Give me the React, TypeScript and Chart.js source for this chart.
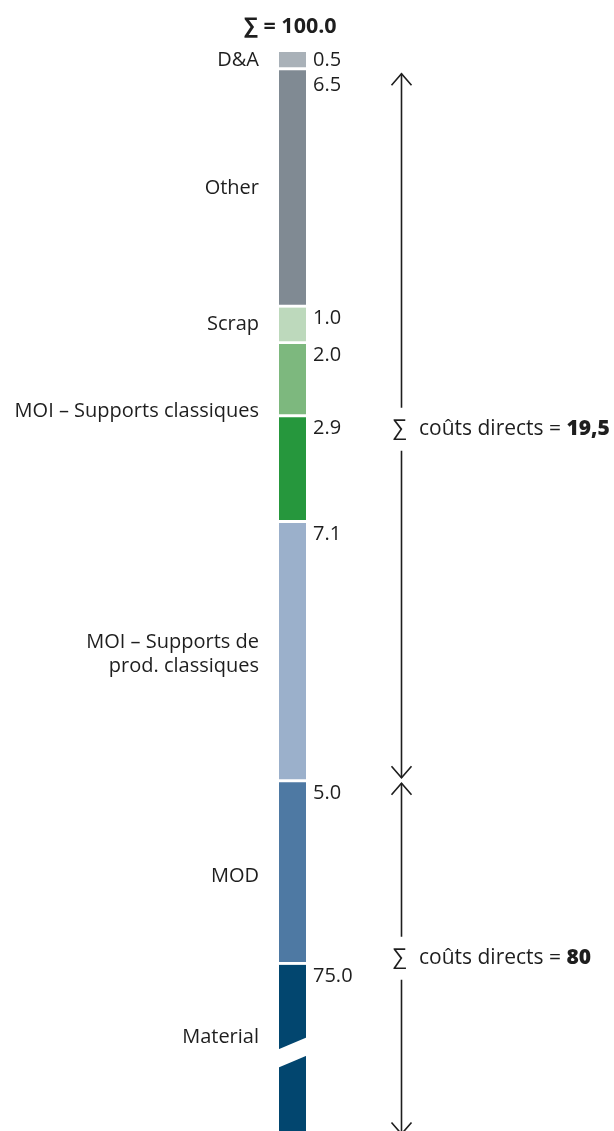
import React, { useEffect, useRef } from 'react';
import { Chart, registerables } from 'chart.js';

Chart.register(...registerables);

// Stacked cost column, listed from the bottom segment to the top one
const segmentNames = [
  'Material',
  'MOD',
  'MOI – Supports de\nprod. classiques',
  '',
  'MOI – Supports classiques',
  'Scrap',
  'Other',
  'D&A',
];
const segmentValues = [75.0, 5.0, 7.1, 2.9, 2.0, 1.0, 6.5, 0.5];
const segmentColors = [
  '#02466f',
  '#4e79a3',
  '#9bb0cb',
  '#26973d',
  '#7db87e',
  '#bdd9bc',
  '#808a93',
  '#a9b1b8',
];

// Bracketed groups of segments (indices into the arrays above)
const directCostGroups = [
  { from: 2, to: 6, caption: 'coûts directs = ' },
  { from: 0, to: 1, caption: 'coûts directs = ' },
];

// Axis window: the column is cut so that only the top of "Material" shows
const AXIS_MIN = 70.45;
const AXIS_MAX = 100;
const BREAK_AT = 72.6;

const FONT_FAMILY = "'Open Sans', 'DejaVu Sans', sans-serif";
const TEXT_COLOR = '#1e1e1e';
const GAP = 3.3;

// Vertical nudges for the category names, relative to a segment's visible centre
const nameNudge = [-11, 4, 3, 0, 32, 0, 1, 1];
// Vertical nudges for the value labels
const valueNudge = [0, 0, 0, 0, 0, -1, 4, 0];
// Vertical nudges for the bracket captions
const captionNudge = [3, -1];

const fmtSum = (s: number) => {
  const r = Math.round(s * 10) / 10;
  return Number.isInteger(r) ? String(r) : r.toFixed(1).replace('.', ',');
};

const annotate = {
  id: 'annotate',
  afterDatasetsDraw(chart: any) {
    const { ctx, chartArea } = chart;
    const y = chart.scales.y;
    const segs = segmentValues.map((_, i) => {
      const el = chart.getDatasetMeta(i).data[0];
      const p = el.getProps(['x', 'y', 'base', 'width'], true);
      return { ...p, left: p.x - p.width / 2, right: p.x + p.width / 2 };
    });

    ctx.save();

    // axis break across the bottom segment
    const m = segs[0];
    const c = y.getPixelForValue(BREAK_AT);
    const slope = 6.1;
    const half = 9.2;
    ctx.fillStyle = '#ffffff';
    ctx.beginPath();
    ctx.moveTo(m.left - 1, c + slope - half);
    ctx.lineTo(m.right + 1, c - slope - half);
    ctx.lineTo(m.right + 1, c - slope + half);
    ctx.lineTo(m.left - 1, c + slope + half);
    ctx.closePath();
    ctx.fill();

    ctx.fillStyle = TEXT_COLOR;

    // value labels to the right of each segment
    ctx.font = `20px ${FONT_FAMILY}`;
    ctx.textAlign = 'left';
    segs.forEach((s, i) => {
      const top = Math.max(s.y, chartArea.top);
      const bottom = Math.min(s.base - GAP, chartArea.bottom);
      const txt = segmentValues[i].toFixed(1);
      if (bottom - top < 26) {
        ctx.textBaseline = 'middle';
        ctx.fillText(txt, s.right + 7, (top + bottom) / 2 + 1);
      } else {
        ctx.textBaseline = 'alphabetic';
        ctx.fillText(txt, s.right + 7, top + 17 + valueNudge[i]);
      }
    });

    // category names to the left
    ctx.font = `20px ${FONT_FAMILY}`;
    ctx.textAlign = 'right';
    ctx.textBaseline = 'middle';
    segs.forEach((s, i) => {
      const name = segmentNames[i];
      if (!name) return;
      const top = Math.max(s.y, chartArea.top);
      const bottom = Math.min(s.base - GAP, chartArea.bottom);
      const lines = name.split('\n');
      const lh = 24;
      const cy = (top + bottom) / 2 + nameNudge[i];
      lines.forEach((ln, k) => {
        ctx.fillText(ln, s.left - 20, cy + (k - (lines.length - 1) / 2) * lh);
      });
    });

    // total above the column
    const total = segmentValues.reduce((a, b) => a + b, 0);
    ctx.font = `bold 21.5px ${FONT_FAMILY}`;
    ctx.textAlign = 'center';
    ctx.textBaseline = 'alphabetic';
    ctx.fillText(`∑ = ${total.toFixed(1)}`, segs[0].x - 2, 33);

    // bracket arrows with the sums of direct costs
    const ax = 401.5;
    const drawHead = (tipY: number, dir: number) => {
      ctx.beginPath();
      ctx.moveTo(ax - 10, tipY + dir * 11.5);
      ctx.lineTo(ax, tipY);
      ctx.lineTo(ax + 10, tipY + dir * 11.5);
      ctx.stroke();
    };
    ctx.strokeStyle = TEXT_COLOR;
    ctx.lineWidth = 1.6;
    directCostGroups.forEach((g, gi) => {
      const topPx = segs[g.to].y;
      const basePx = segs[g.from].base;
      const y1 = gi === 0 ? topPx + 3.5 : topPx + 1;
      const y2 = Math.min(basePx, chartArea.bottom + 3) - (gi === 0 ? 4.5 : 0);
      const mid = (y1 + y2) / 2 + captionNudge[gi];
      ctx.beginPath();
      ctx.moveTo(ax, y1);
      ctx.lineTo(ax, mid - 21);
      ctx.moveTo(ax, mid + 22);
      ctx.lineTo(ax, y2);
      ctx.stroke();
      drawHead(y1, 1);
      drawHead(y2, -1);

      let sum = 0;
      for (let k = g.from; k <= g.to; k++) sum += segmentValues[k];
      ctx.textBaseline = 'middle';
      ctx.textAlign = 'center';
      ctx.font = `22px ${FONT_FAMILY}`;
      ctx.fillText('∑', ax - 2, mid);
      ctx.textAlign = 'left';
      ctx.font = `21px ${FONT_FAMILY}`;
      ctx.fillText(g.caption, 419, mid);
      const w = ctx.measureText(g.caption).width;
      ctx.font = `800 21px ${FONT_FAMILY}`;
      ctx.fillText(fmtSum(sum), 419 + w, mid);
    });

    ctx.restore();
  },
};

export default function App() {
  const ref = useRef<HTMLCanvasElement | null>(null);

  useEffect(() => {
    if (!ref.current) return;
    const chart = new Chart(ref.current, {
      type: 'bar',
      data: {
        labels: [''],
        datasets: segmentValues.map((v, i) => ({
          label: segmentNames[i] || String(v),
          data: [v],
          backgroundColor: segmentColors[i],
          borderColor: '#ffffff',
          borderWidth: { top: 0, left: 0, right: 0, bottom: GAP },
          borderSkipped: false,
          barPercentage: 1,
          categoryPercentage: 1,
        })),
      },
      options: {
        responsive: false,
        animation: false,
        layout: { padding: { top: 52, left: 279, right: 308, bottom: 0 } },
        plugins: { legend: { display: false }, tooltip: { enabled: false } },
        scales: {
          x: { display: false, stacked: true },
          y: { display: false, stacked: true, min: AXIS_MIN, max: AXIS_MAX },
        },
      },
      plugins: [annotate],
    });
    return () => chart.destroy();
  }, []);

  return (
    <div style={{ position: 'fixed', left: 0, top: 0, width: 614, height: 1131, background: '#fff' }}>
      <canvas ref={ref} width={614} height={1131} style={{ display: 'block' }} />
    </div>
  );
}
